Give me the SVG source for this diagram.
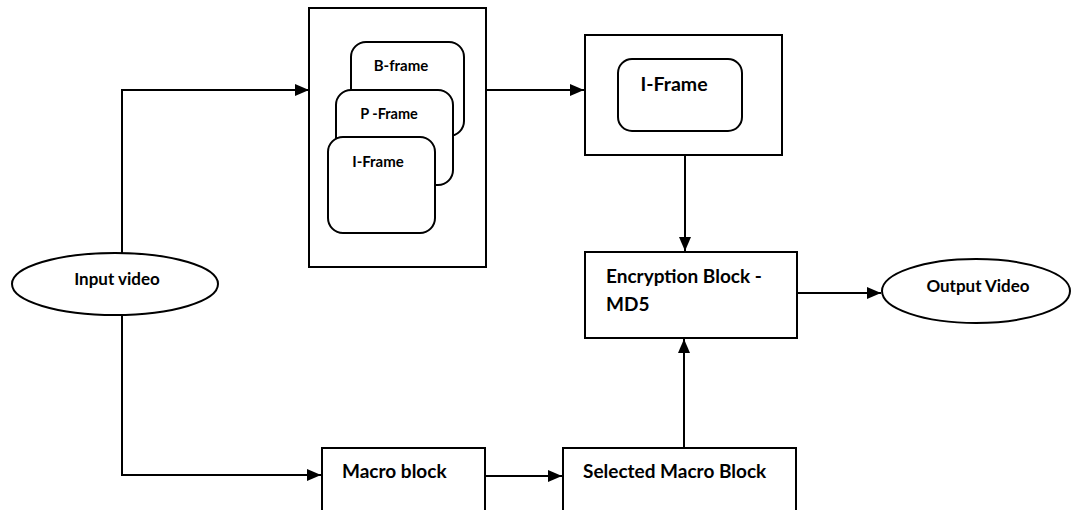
<svg xmlns="http://www.w3.org/2000/svg" width="1076" height="510" viewBox="0 0 1076 510">
<style>
.box{fill:#fff;stroke:#000;stroke-width:2}
.rr{fill:#fff;stroke:#000;stroke-width:2}
.ln{fill:none;stroke:#000;stroke-width:2}
.t{font-family:Lato,"Liberation Sans",sans-serif;font-weight:bold;fill:#000}
</style>
<defs>
<marker id="ah" markerWidth="14" markerHeight="12" refX="14" refY="6" orient="auto" markerUnits="userSpaceOnUse">
<path d="M0,0 L14,6 L0,12 Z" fill="#000"/>
</marker>
</defs>
<rect width="1076" height="510" fill="#fff"/>
<g id="connectors">
<path class="ln" d="M122,253 V90 H309" marker-end="url(#ah)"/>
<path class="ln" d="M122,316 V475 H321" marker-end="url(#ah)"/>
<path class="ln" d="M486,90 H584" marker-end="url(#ah)"/>
<path class="ln" d="M685,155 V251" marker-end="url(#ah)"/>
<path class="ln" d="M797,293 H881" marker-end="url(#ah)"/>
<path class="ln" d="M485,476 H562" marker-end="url(#ah)"/>
<path class="ln" d="M684,448 V339" marker-end="url(#ah)"/>
</g>
<g id="frames">
<rect class="box" x="309" y="8" width="177" height="259"/>
<rect class="rr" x="351" y="42" width="113" height="94" rx="15"/>
<text class="t" x="401" y="71" font-size="15" text-anchor="middle">B-frame</text>
<rect class="rr" x="336" y="90" width="117" height="95" rx="15"/>
<text class="t" x="389" y="119" font-size="14.5" text-anchor="middle">P -Frame</text>
<rect class="rr" x="328" y="137" width="107" height="96" rx="15"/>
<text class="t" x="378" y="167" font-size="15" text-anchor="middle">I-Frame</text>
</g>
<g id="iframe">
<rect class="box" x="585" y="35" width="197" height="120"/>
<rect class="rr" x="618" y="59" width="124" height="72" rx="14"/>
<text class="t" x="674" y="91" font-size="19.5" text-anchor="middle">I-Frame</text>
</g>
<g id="input">
<ellipse class="box" cx="115" cy="284" rx="103" ry="31"/>
<text class="t" x="117" y="285" font-size="17" text-anchor="middle">Input video</text>
</g>
<g id="encryption">
<rect class="box" x="585" y="252" width="212" height="86"/>
<text class="t" x="606" y="283" font-size="19">Encryption Block -</text>
<text class="t" x="606" y="311" font-size="19">MD5</text>
</g>
<g id="output">
<ellipse class="box" cx="976" cy="291" rx="94" ry="32"/>
<text class="t" x="978" y="292" font-size="17" text-anchor="middle">Output Video</text>
</g>
<g id="macro">
<rect class="box" x="322" y="448" width="163" height="70"/>
<text class="t" x="342" y="478" font-size="19">Macro block</text>
</g>
<g id="selected">
<rect class="box" x="563" y="448" width="233" height="70"/>
<text class="t" x="583" y="478" font-size="19">Selected Macro Block</text>
</g>
</svg>
